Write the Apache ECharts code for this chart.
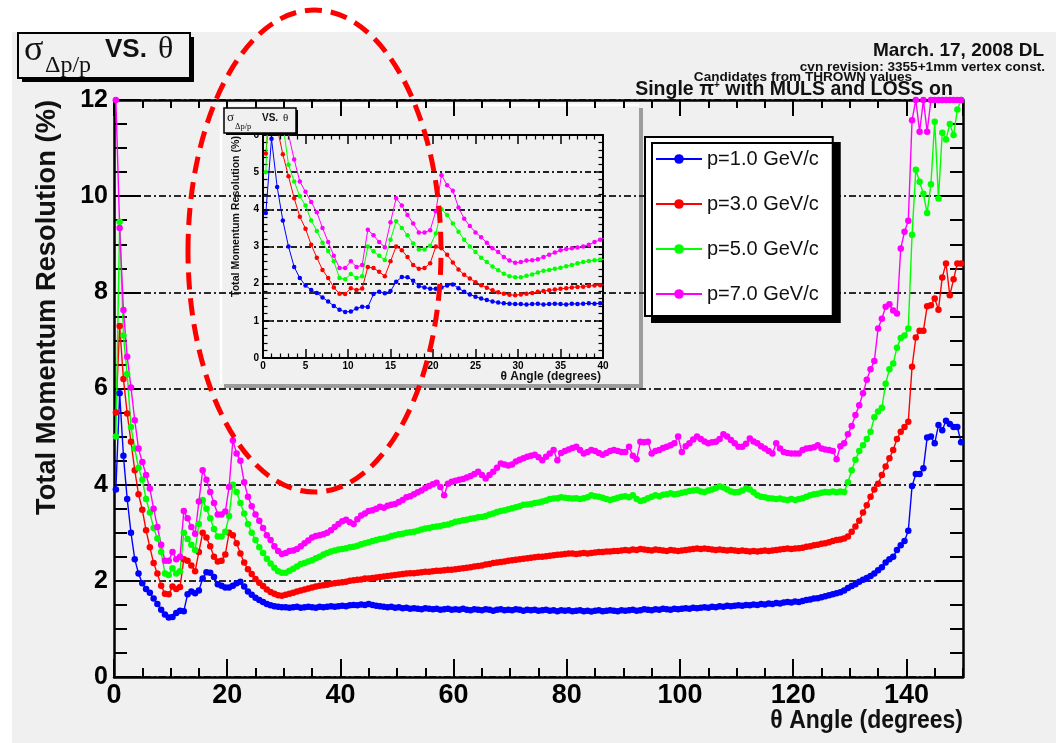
<!DOCTYPE html>
<html><head><meta charset="utf-8">
<script src="https://cdn.jsdelivr.net/npm/echarts@6/dist/echarts.min.js"></script>
<style>html,body{margin:0;padding:0;background:#fff}#c{width:1056px;height:743px}</style>
</head><body><div id="c"></div><script>
// ---- data ----
const THETA_MIN = 0, THETA_MAX = 150, N_BINS = 225;   // histogram binning of theta
const seriesNames = ['p=1.0 GeV/c', 'p=3.0 GeV/c', 'p=5.0 GeV/c', 'p=7.0 GeV/c'];
const xTickStepMain = 20, yTickStepMain = 2;
const xTickStepInset = 5, yTickStepInset = 1;

const p1 = [
3.9, 5.9, 4.6, 3.7, 3.0, 2.45, 2.15, 1.95, 1.83, 1.75, 1.63, 1.52, 1.40, 1.30, 1.24,
1.25, 1.33, 1.38, 1.37, 1.72, 1.78, 1.74, 1.80, 2.05, 2.18, 2.17, 2.08, 1.93, 1.90, 1.86,
1.86, 1.90, 1.95, 1.98, 1.88, 1.78, 1.71, 1.65, 1.60, 1.56, 1.52, 1.49, 1.47, 1.46, 1.45,
1.45, 1.44, 1.45, 1.46, 1.44, 1.45, 1.46, 1.45, 1.44, 1.46, 1.45, 1.46, 1.47, 1.46, 1.47,
1.48, 1.47, 1.49, 1.50, 1.49, 1.51, 1.50, 1.52, 1.50, 1.48, 1.47, 1.46, 1.45, 1.46, 1.44,
1.45, 1.43, 1.44, 1.42, 1.43, 1.42, 1.41, 1.43, 1.42, 1.41, 1.42, 1.40, 1.41, 1.42, 1.40,
1.41, 1.40, 1.42, 1.40, 1.39, 1.41, 1.40, 1.39, 1.41, 1.40, 1.38, 1.40, 1.41, 1.39, 1.40,
1.39, 1.41, 1.40, 1.38, 1.40, 1.39, 1.40, 1.38, 1.39, 1.40, 1.38, 1.39, 1.37, 1.39, 1.38,
1.39, 1.37, 1.38, 1.39, 1.37, 1.38, 1.36, 1.38, 1.39, 1.37, 1.38, 1.39, 1.38, 1.37, 1.39,
1.38, 1.39, 1.40, 1.38, 1.39, 1.41, 1.40, 1.39, 1.41, 1.40, 1.42, 1.41, 1.40, 1.42, 1.41,
1.42, 1.43, 1.42, 1.44, 1.43, 1.44, 1.45, 1.44, 1.46, 1.45, 1.47, 1.46, 1.48, 1.47, 1.48,
1.49, 1.48, 1.50, 1.49, 1.51, 1.50, 1.52, 1.51, 1.53, 1.52, 1.54, 1.53, 1.55, 1.56, 1.55,
1.57, 1.56, 1.58, 1.60, 1.61, 1.63, 1.64, 1.66, 1.68, 1.70, 1.72, 1.74, 1.76, 1.80, 1.85,
1.89, 1.93, 1.98, 2.02, 2.06, 2.10, 2.15, 2.22, 2.28, 2.38, 2.45, 2.50, 2.64, 2.74, 2.83,
3.04, 3.97, 4.22, 4.22, 4.34, 4.98, 5.00, 4.86, 5.24, 5.13, 5.33, 5.26, 5.20, 5.20, 4.88
];
const p3 = [
5.5, 7.3, 6.2, 5.48, 4.89, 4.3, 3.8, 3.48, 3.05, 2.7, 2.37, 2.15, 1.9, 1.73, 1.72,
1.88, 1.83, 1.87, 2.45, 2.42, 2.32, 2.2, 2.6, 3.0, 2.9, 2.72, 2.5, 2.4, 2.42, 2.55,
3.0, 2.95, 2.78, 2.57, 2.38, 2.24, 2.14, 2.04, 1.96, 1.89, 1.82, 1.77, 1.73, 1.70, 1.69,
1.71, 1.73, 1.75, 1.78, 1.80, 1.82, 1.84, 1.86, 1.88, 1.90, 1.91, 1.92, 1.94, 1.95, 1.96,
1.97, 1.98, 2.00, 2.01, 2.02, 2.03, 2.05, 2.05, 2.06, 2.07, 2.08, 2.09, 2.10, 2.11, 2.12,
2.13, 2.14, 2.15, 2.16, 2.16, 2.17, 2.18, 2.19, 2.19, 2.20, 2.21, 2.21, 2.22, 2.23, 2.23,
2.24, 2.25, 2.26, 2.27, 2.28, 2.30, 2.31, 2.32, 2.34, 2.35, 2.37, 2.38, 2.39, 2.40, 2.42,
2.43, 2.44, 2.45, 2.46, 2.47, 2.48, 2.49, 2.50, 2.50, 2.51, 2.52, 2.53, 2.54, 2.55, 2.56,
2.57, 2.57, 2.56, 2.57, 2.58, 2.57, 2.58, 2.59, 2.60, 2.60, 2.61, 2.61, 2.62, 2.62, 2.63,
2.64, 2.63, 2.65, 2.64, 2.66, 2.65, 2.64, 2.63, 2.65, 2.64, 2.63, 2.62, 2.64, 2.63, 2.62,
2.63, 2.64, 2.65, 2.66, 2.67, 2.66, 2.67, 2.66, 2.65, 2.64, 2.65, 2.64, 2.63, 2.64, 2.63,
2.62, 2.63, 2.62, 2.61, 2.62, 2.61, 2.62, 2.63, 2.62, 2.63, 2.64, 2.65, 2.66, 2.67, 2.66,
2.67, 2.68, 2.69, 2.71, 2.72, 2.74, 2.75, 2.77, 2.78, 2.80, 2.83, 2.85, 2.86, 2.88, 2.92,
3.02, 3.13, 3.25, 3.42, 3.57, 3.75, 3.90, 4.02, 4.20, 4.38, 4.55, 4.72, 4.95, 5.10, 5.20,
5.31, 6.45, 7.06, 7.20, 7.20, 7.71, 7.73, 7.87, 7.64, 8.31, 8.60, 7.94, 8.27, 8.60, 8.60
];
const p5 = [
5.0, 9.47, 7.1, 6.3, 5.2, 4.75, 4.35, 4.1, 3.7, 3.42, 3.1, 2.88, 2.6, 2.15, 2.12,
2.26, 2.15, 2.2, 3.0, 2.87, 2.75, 2.64, 3.18, 3.68, 3.5, 3.3, 3.08, 2.92, 2.92, 3.02,
3.35, 4.0, 3.85, 3.62, 3.4, 3.18, 3.0, 2.85, 2.7, 2.58, 2.46, 2.36, 2.27, 2.2, 2.17,
2.17, 2.21, 2.25, 2.30, 2.35, 2.37, 2.40, 2.43, 2.47, 2.50, 2.55, 2.58, 2.61, 2.63, 2.65,
2.66, 2.68, 2.70, 2.71, 2.73, 2.76, 2.78, 2.80, 2.83, 2.85, 2.87, 2.88, 2.90, 2.93, 2.95,
2.97, 2.98, 3.00, 3.01, 3.02, 3.04, 3.07, 3.09, 3.10, 3.12, 3.13, 3.14, 3.16, 3.17, 3.20,
3.23, 3.24, 3.26, 3.27, 3.29, 3.30, 3.32, 3.33, 3.35, 3.38, 3.40, 3.43, 3.45, 3.47, 3.49,
3.51, 3.53, 3.55, 3.58, 3.59, 3.60, 3.62, 3.63, 3.65, 3.67, 3.70, 3.71, 3.72, 3.74, 3.73,
3.72, 3.71, 3.72, 3.70, 3.72, 3.74, 3.78, 3.76, 3.75, 3.73, 3.70, 3.68, 3.70, 3.73, 3.75,
3.76, 3.74, 3.78, 3.70, 3.66, 3.68, 3.72, 3.75, 3.78, 3.76, 3.79, 3.80, 3.82, 3.80, 3.81,
3.83, 3.85, 3.87, 3.88, 3.89, 3.86, 3.85, 3.88, 3.90, 3.93, 3.96, 3.94, 3.90, 3.86, 3.84,
3.85, 3.88, 3.92, 3.90, 3.84, 3.78, 3.75, 3.74, 3.72, 3.71, 3.70, 3.71, 3.69, 3.68, 3.70,
3.68, 3.70, 3.72, 3.75, 3.78, 3.80, 3.81, 3.83, 3.85, 3.84, 3.86, 3.84, 3.86, 3.85, 4.05,
4.30, 4.52, 4.70, 4.82, 4.95, 5.10, 5.40, 5.52, 5.60, 6.10, 6.40, 6.52, 6.85, 7.05, 7.10,
7.25, 9.20, 10.55, 10.30, 10.05, 9.65, 10.25, 11.55, 9.95, 11.32, 11.18, 11.50, 11.27, 11.80, 12.0
];
const p7 = [
12.0, 9.34, 7.63, 6.66, 6.02, 5.34, 4.75, 4.47, 4.2, 3.92, 3.5, 3.12, 2.75, 2.42, 2.42,
2.6, 2.45, 2.5, 3.45, 3.3, 3.12, 2.98, 3.65, 4.3, 4.1, 3.85, 3.62, 3.38, 3.38, 3.44,
3.95, 4.92, 4.65, 4.5, 4.05, 3.75, 3.55, 3.38, 3.25, 3.1, 2.95, 2.85, 2.72, 2.62, 2.56,
2.58, 2.62, 2.63, 2.66, 2.72, 2.78, 2.84, 2.90, 2.93, 2.95, 2.97, 3.00, 3.05, 3.12, 3.18,
3.24, 3.27, 3.22, 3.18, 3.28, 3.36, 3.40, 3.45, 3.47, 3.50, 3.54, 3.52, 3.56, 3.58, 3.60,
3.64, 3.68, 3.74, 3.76, 3.80, 3.84, 3.88, 3.93, 3.97, 4.01, 4.04, 3.95, 3.78, 4.02, 4.06,
4.08, 4.10, 4.12, 4.15, 4.18, 4.22, 4.27, 4.20, 4.13, 4.20, 4.27, 4.35, 4.44, 4.42, 4.40,
4.42, 4.48, 4.52, 4.55, 4.58, 4.60, 4.62, 4.57, 4.51, 4.58, 4.65, 4.72, 4.51, 4.66, 4.70,
4.73, 4.76, 4.79, 4.72, 4.65, 4.68, 4.72, 4.70, 4.66, 4.62, 4.66, 4.70, 4.72, 4.70, 4.68,
4.68, 4.79, 4.60, 4.53, 4.89, 4.88, 4.89, 4.65, 4.70, 4.72, 4.76, 4.79, 4.82, 4.86, 5.00,
4.68, 4.80, 4.86, 4.94, 5.00, 4.95, 4.90, 4.86, 4.88, 4.89, 4.95, 5.05, 5.00, 4.93, 4.86,
4.79, 4.79, 4.85, 4.96, 4.90, 4.86, 4.80, 4.75, 4.70, 4.65, 4.86, 4.75, 4.68, 4.66, 4.65,
4.65, 4.65, 4.72, 4.75, 4.76, 4.78, 4.82, 4.75, 4.73, 4.72, 4.70, 4.53, 4.80, 4.86, 5.05,
5.22, 5.45, 5.65, 5.90, 6.18, 6.40, 6.57, 7.25, 7.45, 7.70, 7.75, 7.62, 7.56, 8.91, 9.26,
9.49, 11.58, 12.0, 11.34, 12.0, 11.34, 12.0, 12.0, 12.0, 12.0, 12.0, 12.0, 12.0, 12.0, 12.0
];
const seriesValues = [p1, p3, p5, p7];
const colors = ['#0000ff', '#ff0000', '#00ff00', '#ff00ff'];

// ---- build ----
const binWidth = (THETA_MAX - THETA_MIN) / N_BINS;
const toPairs = vals => vals.map((v, i) => [THETA_MIN + (i + 0.5) * binWidth, v]);

const FONT = 'Liberation Sans';
const black = '#000';
function axisCommon(o) {
  return Object.assign({
    type: 'value', splitLine: { show: false }, axisLabel: { show: false },
    axisLine: { show: false, onZero: false }, z: 2
  }, o);
}
const tick = (len, w) => ({ show: true, inside: true, length: len, lineStyle: { color: black, width: w } });
const line = w => ({ show: true, onZero: false, lineStyle: { color: black, width: w } });
const insetMinor = { show: true, splitNumber: 5, length: 4.5, lineStyle: { color: black, width: 1.2 } };

const xAxis = [
  axisCommon({ gridIndex: 0, min: 0, max: 150, interval: xTickStepMain, position: 'bottom',
    axisLine: line(2.5), axisTick: tick(18, 2),
    axisLabel: { show: true, showMaxLabel: false, color: black, fontSize: 27, fontWeight: 'bold', fontFamily: FONT, margin: 5 } }),
  axisCommon({ gridIndex: 0, min: 0, max: 150, interval: 5, position: 'bottom', axisTick: tick(9, 2) }),
  axisCommon({ gridIndex: 0, min: 0, max: 150, interval: xTickStepMain, position: 'top', axisLine: line(2.5), axisTick: tick(16, 2) }),
  axisCommon({ gridIndex: 0, min: 0, max: 150, interval: 5, position: 'top', axisTick: tick(8, 2) }),
  axisCommon({ gridIndex: 1, min: 0, max: 40, interval: xTickStepInset, position: 'bottom', z: 6,
    axisLine: line(2), axisTick: tick(9, 1.5), minorTick: insetMinor,
    axisLabel: { show: true, color: black, fontSize: 10, fontWeight: 'bold', fontFamily: FONT, margin: 3 } }),
  axisCommon({ gridIndex: 1, min: 0, max: 40, interval: xTickStepInset, position: 'top', z: 6,
    axisLine: line(2), axisTick: tick(9, 1.5), minorTick: insetMinor })
];
const yAxis = [
  axisCommon({ gridIndex: 0, min: 0, max: 12, interval: yTickStepMain, position: 'left',
    axisLine: line(2.5), axisTick: tick(27, 2),
    axisLabel: { show: true, color: black, fontSize: 25, fontWeight: 'bold', fontFamily: FONT, margin: 6 },
    splitLine: { show: true, lineStyle: { color: '#2a2a2a', width: 1.8, type: [7, 3, 2, 3] } } }),
  axisCommon({ gridIndex: 0, min: 0, max: 12, interval: 0.5, position: 'left', axisTick: tick(13, 2) }),
  axisCommon({ gridIndex: 0, min: 0, max: 12, interval: yTickStepMain, position: 'right', axisLine: line(2.5), axisTick: tick(27, 2) }),
  axisCommon({ gridIndex: 0, min: 0, max: 12, interval: 0.5, position: 'right', axisTick: tick(13, 2) }),
  axisCommon({ gridIndex: 1, min: 0, max: 6, interval: yTickStepInset, position: 'left', z: 6,
    axisLine: line(2), axisTick: tick(9, 1.5), minorTick: insetMinor,
    axisLabel: { show: true, color: black, fontSize: 10, fontWeight: 'bold', fontFamily: FONT, margin: 4 },
    splitLine: { show: true, lineStyle: { color: '#222', width: 1.8, type: [6, 3, 2, 3] } } }),
  axisCommon({ gridIndex: 1, min: 0, max: 6, interval: yTickStepInset, position: 'right', z: 6,
    axisLine: line(2), axisTick: tick(9, 1.5), minorTick: insetMinor })
];

const series = [];
seriesValues.forEach((vals, k) => {
  const data = toPairs(vals);
  series.push({ name: seriesNames[k], type: 'line', xAxisIndex: 0, yAxisIndex: 0, data,
    symbol: 'circle', symbolSize: 6.5, clip: true, z: 3,
    lineStyle: { color: colors[k], width: 1.4 }, itemStyle: { color: colors[k] } });
  series.push({ name: seriesNames[k], type: 'line', xAxisIndex: 4, yAxisIndex: 4, data,
    symbol: 'circle', symbolSize: 4.5, clip: true, z: 7,
    lineStyle: { color: colors[k], width: 1 }, itemStyle: { color: colors[k] } });
});

function txt(x, y, text, size, weight, family, align, valign, extra) {
  return Object.assign({ type: 'text', x, y, silent: true,
    style: { text, fill: '#111', fontSize: size, fontWeight: weight, fontFamily: family,
      align, textAlign: align, verticalAlign: valign, textVerticalAlign: valign } }, extra || {});
}

const graphic = [
  { type: 'rect', z: -10, silent: true, shape: { x: 12, y: 32, width: 1044, height: 711 }, style: { fill: '#f0f0f0' } },
  // main title box
  { type: 'rect', z: 20, silent: true, shape: { x: 22, y: 37, width: 172, height: 45 }, style: { fill: '#000' } },
  { type: 'rect', z: 21, silent: true, shape: { x: 18, y: 33, width: 172, height: 45 }, style: { fill: '#f0f0f0', stroke: '#000', lineWidth: 2 } },
  txt(24, 51, 'σ', 36, 'normal', 'Liberation Serif', 'left', 'middle', { z: 22 }),
  txt(45, 66, 'Δp/p', 24, 'normal', 'Liberation Serif', 'left', 'middle', { z: 22 }),
  txt(105, 50, 'VS.', 26, 'bold', FONT, 'left', 'middle', { z: 22 }),
  txt(158, 50, 'θ', 32, 'normal', 'Liberation Serif', 'left', 'middle', { z: 22 }),
  // top-right annotations
  txt(1044, 51, 'March. 17, 2008 DL', 19, 'bold', FONT, 'right', 'middle'),
  txt(1045, 67, 'cvn revision: 3355+1mm vertex const.', 13.6, 'bold', FONT, 'right', 'middle'),
  txt(803, 77, 'Candidates from THROWN values', 13.6, 'bold', FONT, 'center', 'middle'),
  { type: 'text', x: 794, y: 90, silent: true, style: { text: '{a|Single π}{s|+}{a| with MULS and LOSS on}',
      align: 'center', textAlign: 'center', verticalAlign: 'middle', textVerticalAlign: 'middle',
      rich: { a: { fontSize: 19.5, fontWeight: 'bold', fontFamily: FONT, fill: '#111', color: '#111' },
              s: { fontSize: 10, fontWeight: 'bold', fontFamily: FONT, fill: '#111', color: '#111', verticalAlign: 'top', padding: [0, 0, 10, 0] } } } },
  // axis titles
  txt(47, 100, 'Total Momentum Resolution (%)', 27.3, 'bold', FONT, 'right', 'middle', { rotation: Math.PI / 2 }),
  txt(963, 721, 'θ Angle (degrees)', 25, 'bold', FONT, 'right', 'middle', { scaleX: 0.92 }),
  // inset panel
  { type: 'rect', z: 1, silent: true, shape: { x: 224, y: 108, width: 419, height: 280 }, style: { fill: '#9c9c9c' } },
  { type: 'rect', z: 1, silent: true, shape: { x: 220, y: 104, width: 419, height: 280 }, style: { fill: '#f0f0f0' } },
  { type: 'polyline', z: 1, silent: true, shape: { points: [[221, 384], [221, 105], [639, 105]] }, style: { stroke: '#fff', lineWidth: 2.5, fill: null } },
  // inset title box
  { type: 'rect', z: 9, silent: true, shape: { x: 226, y: 110, width: 72, height: 25 }, style: { fill: '#000' } },
  { type: 'rect', z: 10, silent: true, shape: { x: 224, y: 108, width: 72, height: 25 }, style: { fill: '#f0f0f0', stroke: '#000', lineWidth: 1.5 } },
  txt(227, 118, 'σ', 13, 'normal', 'Liberation Serif', 'left', 'middle', { z: 11 }),
  txt(235, 127, 'Δp/p', 8.5, 'normal', 'Liberation Serif', 'left', 'middle', { z: 11 }),
  txt(262, 118, 'VS.', 10, 'bold', FONT, 'left', 'middle', { z: 11 }),
  txt(283, 118, 'θ', 11, 'normal', 'Liberation Serif', 'left', 'middle', { z: 11 }),
  // inset axis titles
  txt(236, 136, 'Total Momentum Resolution (%)', 10.6, 'bold', FONT, 'right', 'middle', { rotation: Math.PI / 2, z: 8 }),
  txt(601, 377, 'θ Angle (degrees)', 12, 'bold', FONT, 'right', 'middle', { z: 8 }),
  // red dashed ellipse
  { type: 'ellipse', z: 100, silent: true, shape: { cx: 314.5, cy: 251, rx: 126.5, ry: 241 },
    style: { fill: null, stroke: '#ff0000', lineWidth: 5, lineDash: [17, 9] } }
];

const chart = echarts.init(document.getElementById('c'), null, { renderer: 'canvas' });
chart.setOption({
  animation: false,
  backgroundColor: '#ffffff',
  grid: [
    { left: 114, top: 100, width: 849, height: 577, z: 0 },
    { left: 263, top: 135, width: 340, height: 223, z: 5 }
  ],
  xAxis, yAxis, series, graphic,
  legend: {
    data: seriesNames, orient: 'vertical', left: 645, top: 137, z: 30,
    padding: [10, 14, 10, 10], itemGap: 21, itemWidth: 46, itemHeight: 12,
    backgroundColor: '#ffffff', borderColor: '#000', borderWidth: 2,
    shadowColor: '#000', shadowBlur: 0, shadowOffsetX: 7, shadowOffsetY: 6,
    textStyle: { fontSize: 20, color: '#111', fontFamily: FONT, lineHeight: 24 },
    selectedMode: false
  }
});
</script></body></html>
